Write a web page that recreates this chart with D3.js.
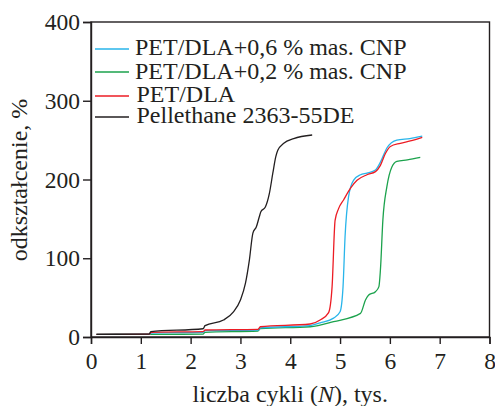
<!DOCTYPE html>
<html><head><meta charset="utf-8">
<script src="https://cdn.jsdelivr.net/npm/d3@7"></script>
<style>body{margin:0;background:#fff}svg{display:block}</style>
</head><body><svg id="c" width="495" height="406"></svg>
<script>
const xTicks = [0,1,2,3,4,5,6,7,8];
const yTicks = [0,100,200,300,400];
const seriesNames = ["PET/DLA+0,6 % mas. CNP","PET/DLA+0,2 % mas. CNP","PET/DLA","Pellethane 2363-55DE"];
const seriesColors = ["#29b5ea","#1ba24c","#ec1c24","#231f20"];

const blueX = [0.11,1.17,1.21,2.25,2.29,3.35,3.40,4.40,4.60,4.87,5.0,5.06,5.10,5.17,5.27,5.41,5.54,5.71,5.81,5.94,6.14,6.40,6.65];
const blueY = [3.4,3.5,5.0,6.0,8,8.8,11.5,14.5,18,24,32,64,127,178,199,206,208,212,222,240,250,252,255];
const greenX = [0.11,1.17,1.21,2.25,2.29,3.35,3.40,4.40,4.87,5.41,5.51,5.57,5.71,5.78,5.81,5.86,5.94,6.04,6.14,6.35,6.61];
const greenY = [3.3,3.4,3.4,3.6,6.0,7.6,10.7,13,19.5,30,47,53,57.5,64,85,149,191,216,223,225,228];
const redX = [0.11,1.17,1.21,2.25,2.29,3.35,3.40,4.40,4.60,4.77,4.84,4.90,4.97,5.07,5.21,5.34,5.54,5.71,5.81,5.91,6.01,6.21,6.41,6.65];
const redY = [3.4,3.6,6.0,6.8,8.9,9.7,13,16.5,21.6,31,64,148,163,174,189,199,206,210,218,233,242,246,249,253.6];
const blackX = [0.11,1.17,1.2,2.25,2.29,2.66,2.86,3.0,3.10,3.18,3.25,3.32,3.38,3.41,3.50,3.58,3.65,3.71,3.75,3.87,4.07,4.44];
const blackY = [3.4,3.8,6.8,10.5,14.4,21.6,32,47,68,98,132,140,153,159,165,182,208,229,237,246,252,256.5];

const seriesX = [blueX, greenX, redX, blackX];
const seriesY = [blueY, greenY, redY, blackY];

const FONT = '"Liberation Serif"';
const TXT = "#231f20";
const svg = d3.select("#c");
const L = 91, R = 489.5, T = 22, B = 337;
const x = d3.scaleLinear().domain([0,8]).range([L,R]);
const y = d3.scaleLinear().domain([0,400]).range([B,T]);

const fsTick = 23.5, fs = 24;
svg.append("rect").attr("x",L).attr("y",T).attr("width",R-L).attr("height",B-T)
  .attr("fill","none").attr("stroke",TXT).attr("stroke-width",1.4);

const xa = svg.append("g").attr("transform",`translate(0,${B})`)
  .call(d3.axisBottom(x).tickValues(xTicks).tickFormat(d3.format("d")).tickSize(7).tickPadding(8));
const ya = svg.append("g").attr("transform",`translate(${L},0)`)
  .call(d3.axisLeft(y).tickValues(yTicks).tickFormat(d3.format("d")).tickSize(8).tickPadding(3));
[xa,ya].forEach(g=>{
  g.attr("font-family",null).attr("font-size",null);
  g.select(".domain").attr("stroke",TXT).attr("stroke-width",1.4);
  g.selectAll(".tick line").attr("stroke",TXT).attr("stroke-width",1.4);
  g.selectAll("text").style("font-size",fsTick+"px").style("font-family",FONT).style("fill",TXT);
});

const line = d3.line().x(d=>x(d[0])).y(d=>y(d[1])).curve(d3.curveMonotoneX);
[1,0,2,3].forEach(i=>{
  const pts = seriesX[i].map((v,j)=>[v, seriesY[i][j]]);
  svg.append("path").attr("d",line(pts)).attr("fill","none")
    .attr("stroke",seriesColors[i]).attr("stroke-width",1.3);
});

const legY = [49,72,96,117];
const legBase = [54.5,78.5,102,122.5];
seriesNames.forEach((n,i)=>{
  svg.append("line").attr("x1",95).attr("x2",129).attr("y1",legY[i]).attr("y2",legY[i])
    .attr("stroke",seriesColors[i]).attr("stroke-width",1.4);
  svg.append("text").attr("x",i>=2?136.5:135).attr("y",legBase[i])
    .style("font-size",fs+"px").style("font-family",FONT).style("fill",TXT).text(n);
});

const xt = svg.append("text").attr("x",(L+R)/2).attr("y",402).attr("text-anchor","middle")
  .style("font-size",fs+"px").style("font-family",FONT).style("fill",TXT);
xt.append("tspan").text("liczba cykli (");
xt.append("tspan").style("font-style","italic").text("N");
xt.append("tspan").text("), tys.");
svg.append("text").attr("transform","translate(27,180) rotate(-90)").attr("text-anchor","middle")
  .style("font-size",fs+"px").style("font-family",FONT).style("fill",TXT).text("odkształcenie, %");
</script></body></html>
